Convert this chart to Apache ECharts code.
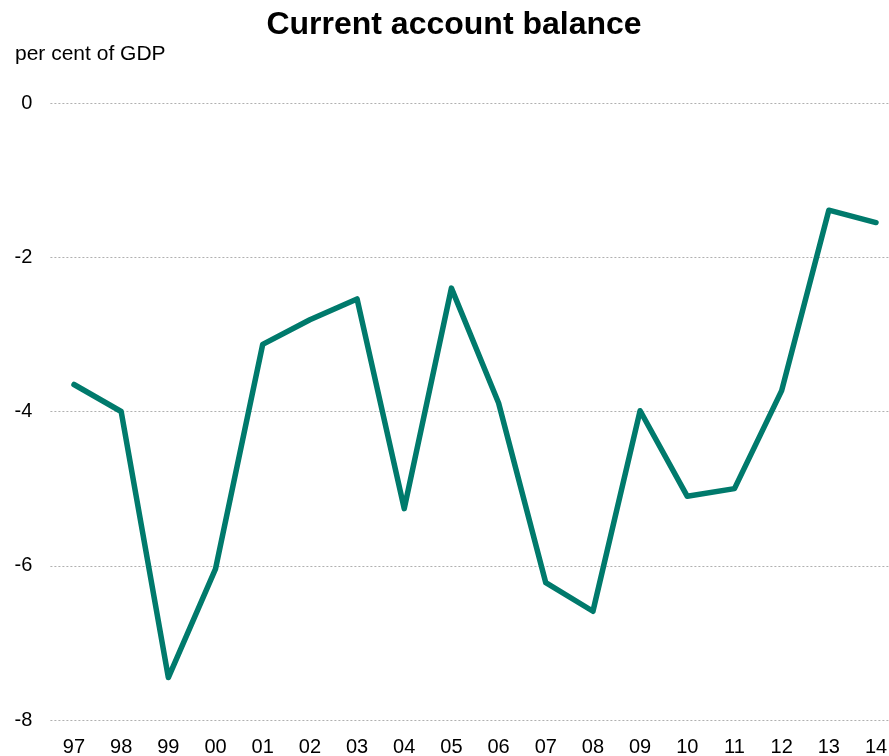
<!DOCTYPE html>
<html>
<head>
<meta charset="utf-8">
<script src="https://cdn.jsdelivr.net/npm/echarts@6/dist/echarts.min.js"></script>
<style>
  html, body { margin: 0; padding: 0; background: #fff; }
  #chart { width: 889px; height: 756px; }
</style>
</head>
<body>
<div id="chart"></div>
<script>
// Years (two-digit labels) and the current account balance, per cent of GDP
const years = ['97','98','99','00','01','02','03','04','05','06','07','08','09','10','11','12','13','14'];
const balance = [-3.65, -4.0, -7.45, -6.04, -3.13, -2.81, -2.54, -5.26, -2.40, -3.89, -6.22, -6.59, -3.99, -5.10, -5.00, -3.73, -1.39, -1.55];
const yTicks = { min: -8, max: 0, step: 2 };

const font = 'Liberation Sans, Arial, sans-serif';
const chart = echarts.init(document.getElementById('chart'), null, { renderer: 'canvas' });
chart.setOption({
  animation: false,
  textStyle: { fontFamily: font },
  title: [
    {
      text: 'Current account balance',
      left: 454, top: 9, textAlign: 'center', padding: 0,
      textStyle: { fontSize: 32, fontWeight: 'bold', color: '#000', fontFamily: font }
    },
    {
      text: 'per cent of GDP',
      left: 15, top: 44, padding: 0,
      textStyle: { fontSize: 21, fontWeight: 'normal', color: '#000', fontFamily: font }
    }
  ],
  grid: { left: 50.4, top: 103, width: 849.2, height: 617, containLabel: false, outerBoundsMode: 'none' },
  xAxis: {
    type: 'category',
    data: years,
    boundaryGap: true,
    axisLine: { show: false },
    axisTick: { show: false },
    axisLabel: { color: '#000', fontSize: 20, margin: 17 }
  },
  yAxis: {
    type: 'value',
    min: yTicks.min, max: yTicks.max, interval: yTicks.step,
    axisLine: { show: false },
    axisTick: { show: false },
    axisLabel: { color: '#000', fontSize: 20, margin: 18 },
    splitLine: { lineStyle: { color: '#b0b0b0', type: [2, 2], width: 1 } }
  },
  series: [{
    type: 'line',
    data: balance,
    symbol: 'none',
    lineStyle: { color: '#007a6c', width: 5.5, cap: 'round', join: 'round' }
  }]
});
</script>
</body>
</html>
